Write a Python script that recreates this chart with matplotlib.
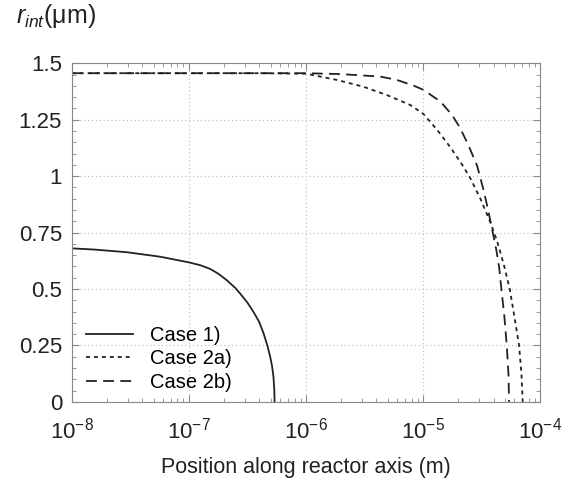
import matplotlib
matplotlib.use("Agg")
import matplotlib.pyplot as plt
from matplotlib.ticker import FixedLocator, FixedFormatter, MultipleLocator, LogLocator

plt.rcParams["font.family"] = ["Liberation Sans", "DejaVu Sans"]
plt.rcParams["mathtext.fontset"] = "custom"
plt.rcParams["mathtext.rm"] = "Liberation Sans"
plt.rcParams["mathtext.it"] = "Liberation Sans:italic"
plt.rcParams["axes.unicode_minus"] = False

# case 1) solid curve
x_case1 = [1.0e-8, 1.53e-8, 2.95e-8, 5.69e-8, 1.0e-7, 1.26e-7, 1.52e-7, 1.78e-7,
           2.11e-7, 2.51e-7, 2.74e-7, 3.16e-7, 3.56e-7, 3.98e-7, 4.35e-7, 4.68e-7,
           4.95e-7, 5.13e-7, 5.28e-7, 5.37e-7, 5.40e-7]
r_case1 = [0.680, 0.675, 0.663, 0.643, 0.618, 0.605, 0.589, 0.568,
           0.539, 0.503, 0.480, 0.440, 0.399, 0.355, 0.303, 0.250,
           0.200, 0.160, 0.111, 0.050, 0.0]

# case 2a) dotted curve
x_case2a = [1.0e-8, 4.0e-7, 1.0e-6, 1.84e-6, 3.10e-6, 4.92e-6, 7.80e-6, 1.01e-5,
            1.32e-5, 1.71e-5, 2.15e-5, 2.54e-5, 3.09e-5, 3.76e-5, 4.29e-5,
            4.52e-5, 4.95e-5, 5.50e-5, 6.03e-5, 6.61e-5, 6.92e-5, 7.10e-5]
r_case2a = [1.456, 1.456, 1.454, 1.426, 1.396, 1.359, 1.315, 1.275,
            1.205, 1.128, 1.052, 0.990, 0.900, 0.795, 0.712,
            0.672, 0.598, 0.500, 0.377, 0.250, 0.126, 0.0]

# case 2b) dashed curve
x_case2b = [1.0e-8, 1.0e-6, 2.0e-6, 4.32e-6, 6.00e-6, 8.32e-6, 1.01e-5, 1.41e-5,
            1.77e-5, 2.08e-5, 2.45e-5, 2.90e-5, 3.30e-5, 3.56e-5, 3.96e-5,
            4.23e-5, 4.46e-5, 4.67e-5, 4.95e-5, 5.19e-5, 5.36e-5, 5.43e-5]
r_case2b = [1.456, 1.456, 1.452, 1.441, 1.426, 1.401, 1.382, 1.330,
            1.271, 1.212, 1.135, 1.045, 0.935, 0.860, 0.745,
            0.672, 0.598, 0.500, 0.377, 0.250, 0.126, 0.0]

y_ticks = [0, 0.25, 0.5, 0.75, 1, 1.25, 1.5]
y_labels = ["0", "0.25", "0.5", "0.75", "1", "1.25", "1.5"]

fig = plt.figure(figsize=(5.74, 4.83), dpi=100)
ax = fig.add_axes([0.125, 0.168, 0.816, 0.701])

ax.plot(x_case1, r_case1, color="#222222", lw=1.3, ls="-", label="Case 1)")
ax.plot(x_case2a, r_case2a, color="#222222", lw=1.3, ls=(0, (2.2, 2.2)), label="Case 2a)")
ax.plot(x_case2b, r_case2b, color="#222222", lw=1.3, ls=(0, (6, 3.5)), label="Case 2b)")

ax.set_xscale("log")
ax.set_xlim(1e-8, 1e-4)
ax.set_ylim(0, 1.5)
ax.yaxis.set_major_locator(FixedLocator(y_ticks))
ax.yaxis.set_major_formatter(FixedFormatter(y_labels))
ax.yaxis.set_minor_locator(MultipleLocator(0.05))
ax.xaxis.set_major_locator(LogLocator(base=10, numticks=10))
ax.xaxis.set_minor_locator(LogLocator(base=10, subs=range(2, 10), numticks=20))

ax.grid(True, which="major", color="#bbbbbb", ls=(0, (1, 2.5)), lw=0.8)
for s in ax.spines.values():
    s.set_color("#888888")
ax.tick_params(which="both", direction="in", top=True, right=True, color="#888888")
ax.tick_params(which="major", length=5, labelsize=16, labelcolor="#222222")
ax.tick_params(axis="y", which="major", pad=7)
ax.tick_params(axis="x", which="major", pad=11)
ax.tick_params(which="minor", length=3)

ax.set_xlabel("Position along reactor axis (m)", fontsize=15.5, color="#222222", labelpad=10)
fig.text(0.028, 0.995, r"$r_{int}$(μm)", fontsize=18, color="#222222", va="top", ha="left")

ax.legend(loc="lower left", bbox_to_anchor=(-0.012, -0.03), frameon=False, fontsize=14.5,
          handlelength=2.3, handletextpad=0.85, labelspacing=0.22, borderaxespad=0.6)

fig.savefig("out.png", dpi=100)
